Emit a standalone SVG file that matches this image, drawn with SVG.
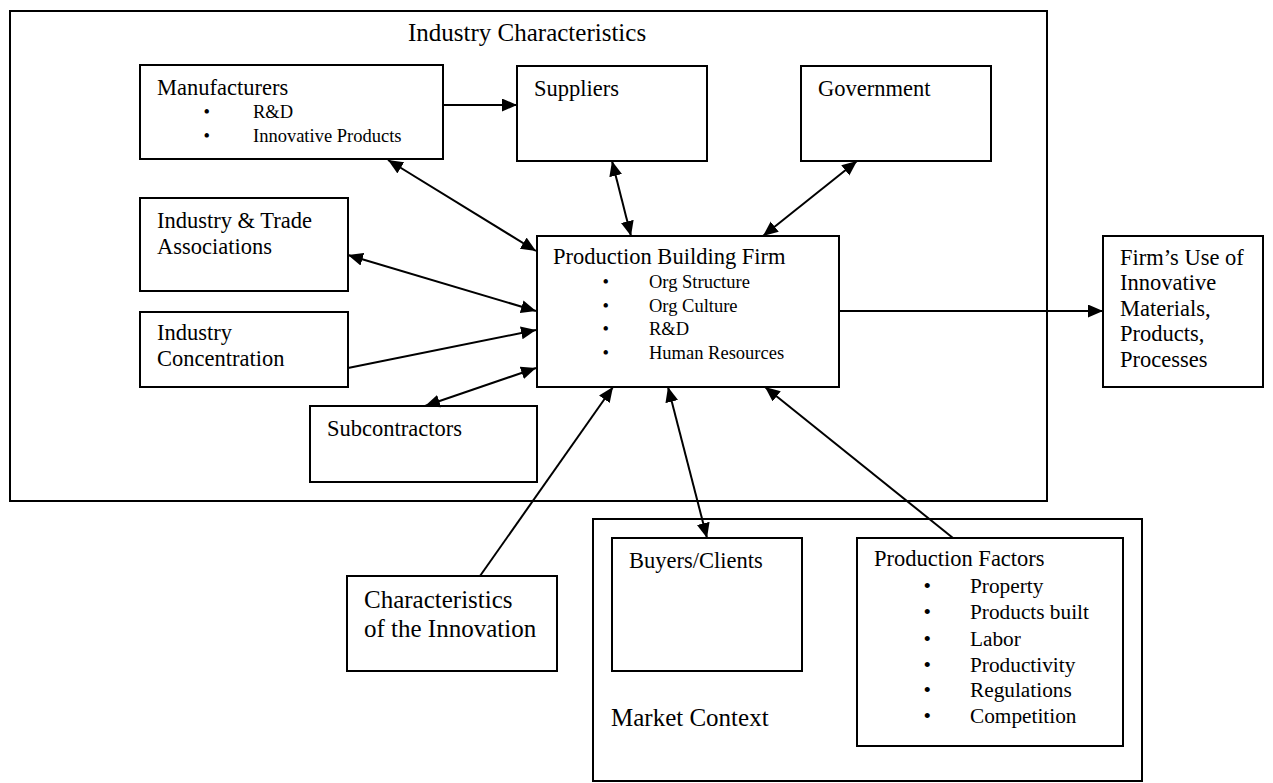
<svg xmlns="http://www.w3.org/2000/svg" width="1273" height="783" viewBox="0 0 1273 783">
<style>
.box{fill:#fff;stroke:#000;stroke-width:2}
.frame{fill:none;stroke:#000;stroke-width:2}
text{font-family:"Liberation Serif","Times New Roman",serif;fill:#000}
.lbl{font-size:22.5px}
.big{font-size:25px}
.sm{font-size:18.5px}
.md{font-size:21.3px}
.c{fill:none;stroke:#000;stroke-width:2}
</style>
<defs>
<marker id="ah" markerUnits="userSpaceOnUse" markerWidth="16" markerHeight="14" refX="15" refY="6.5" orient="auto-start-reverse" viewBox="0 0 16 14">
<path d="M0,0 L15,6.5 L0,13 z" fill="#000"/>
</marker>
</defs>
<rect width="1273" height="783" fill="#fff"/>
<g id="industry-characteristics">
<rect class="frame" x="10" y="11" width="1037" height="490"/>
<text class="big" x="408" y="41">Industry Characteristics</text>
</g>
<g id="market-context">
<rect class="frame" x="593" y="519" width="549" height="262"/>
<text class="big" x="611" y="726">Market Context</text>
</g>
<g id="manufacturers">
<rect class="box" x="140" y="65" width="303" height="94"/>
<text class="lbl" x="157" y="95">Manufacturers</text>
<text class="sm" x="203.5" y="118">•</text><text class="sm" x="253" y="118">R&amp;D</text>
<text class="sm" x="203.5" y="142">•</text><text class="sm" x="253" y="142">Innovative Products</text>
</g>
<g id="suppliers">
<rect class="box" x="517" y="66" width="190" height="95"/>
<text class="lbl" x="534" y="96">Suppliers</text>
</g>
<g id="government">
<rect class="box" x="801" y="66" width="190" height="95"/>
<text class="lbl" x="818" y="96">Government</text>
</g>
<g id="industry-trade">
<rect class="box" x="140" y="198" width="208" height="93"/>
<text class="lbl" x="157" y="228">Industry &amp; Trade</text>
<text class="lbl" x="157" y="254">Associations</text>
</g>
<g id="industry-concentration">
<rect class="box" x="140" y="312" width="208" height="75"/>
<text class="lbl" x="157" y="340">Industry</text>
<text class="lbl" x="157" y="366">Concentration</text>
</g>
<g id="subcontractors">
<rect class="box" x="310" y="406" width="227" height="76"/>
<text class="lbl" x="327" y="436">Subcontractors</text>
</g>
<g id="production-building-firm">
<rect class="box" x="537" y="236" width="302" height="151"/>
<text class="lbl" x="553" y="264">Production Building Firm</text>
<text class="sm" x="602.5" y="288">•</text><text class="sm" x="649" y="288">Org Structure</text>
<text class="sm" x="602.5" y="311.5">•</text><text class="sm" x="649" y="311.5">Org Culture</text>
<text class="sm" x="602.5" y="335">•</text><text class="sm" x="649" y="335">R&amp;D</text>
<text class="sm" x="602.5" y="358.5">•</text><text class="sm" x="649" y="358.5">Human Resources</text>
</g>
<g id="firms-use">
<rect class="box" x="1103" y="236" width="160" height="151"/>
<text class="lbl" x="1120" y="265">Firm’s Use of</text>
<text class="lbl" x="1120" y="290">Innovative</text>
<text class="lbl" x="1120" y="316">Materials,</text>
<text class="lbl" x="1120" y="341">Products,</text>
<text class="lbl" x="1120" y="367">Processes</text>
</g>
<g id="characteristics-innovation">
<rect class="box" x="347" y="576" width="210" height="95"/>
<text class="big" x="364" y="608">Characteristics</text>
<text class="big" x="364" y="637">of the Innovation</text>
</g>
<g id="buyers-clients">
<rect class="box" x="612" y="538" width="190" height="133"/>
<text class="lbl" x="629" y="568">Buyers/Clients</text>
</g>
<g id="production-factors">
<rect class="box" x="857" y="538" width="266" height="208"/>
<text class="lbl" x="874" y="566">Production Factors</text>
<text class="md" x="923.5" y="593">•</text><text class="md" x="970" y="593">Property</text>
<text class="md" x="923.5" y="619">•</text><text class="md" x="970" y="619">Products built</text>
<text class="md" x="923.5" y="645.5">•</text><text class="md" x="970" y="645.5">Labor</text>
<text class="md" x="923.5" y="671.5">•</text><text class="md" x="970" y="671.5">Productivity</text>
<text class="md" x="923.5" y="697">•</text><text class="md" x="970" y="697">Regulations</text>
<text class="md" x="923.5" y="722.5">•</text><text class="md" x="970" y="722.5">Competition</text>
</g>
<g id="connectors">
<line class="c" x1="443" y1="105" x2="517" y2="105" marker-end="url(#ah)"/>
<line class="c" x1="388" y1="160" x2="536" y2="251" marker-start="url(#ah)" marker-end="url(#ah)"/>
<line class="c" x1="612" y1="161" x2="631" y2="236" marker-start="url(#ah)" marker-end="url(#ah)"/>
<line class="c" x1="857" y1="161" x2="763" y2="236" marker-start="url(#ah)" marker-end="url(#ah)"/>
<line class="c" x1="348" y1="255" x2="536" y2="311" marker-start="url(#ah)" marker-end="url(#ah)"/>
<line class="c" x1="348" y1="368" x2="536" y2="330" marker-end="url(#ah)"/>
<line class="c" x1="425" y1="406" x2="536" y2="368" marker-start="url(#ah)" marker-end="url(#ah)"/>
<line class="c" x1="480" y1="576" x2="613" y2="387" marker-end="url(#ah)"/>
<line class="c" x1="668" y1="387" x2="707" y2="538" marker-start="url(#ah)" marker-end="url(#ah)"/>
<line class="c" x1="953" y1="538" x2="765" y2="387" marker-end="url(#ah)"/>
<line class="c" x1="839" y1="311" x2="1103" y2="311" marker-end="url(#ah)"/>
</g>
</svg>
